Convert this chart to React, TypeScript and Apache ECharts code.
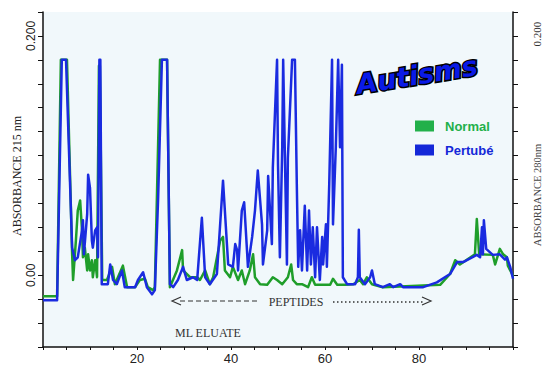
import React, { useEffect, useRef } from "react";
import * as echarts from "echarts";

// ml eluate (x) vs absorbance (y)
const normalPoints: [number, number][] = [
  [0, -0.0175], [3.0, -0.0175], [3.8, 0.18], [5.1, 0.18], [6.2, 0.0175], [6.4, -0.004], [7.0, 0.029],
  [7.4, 0.054], [7.9, 0.0625], [8.3, 0.0375], [8.5, 0.015], [8.9, 0.023], [9.4, 0.004], [9.6, 0.0175],
  [10.0, 0.004], [10.4, 0.0125], [10.6, -0.0017], [11.1, 0.0125], [11.5, -0.0017], [11.9, 0.175],
  [12.1, 0.175], [12.6, -0.004], [13.6, -0.004], [14.7, 0.007], [15.3, -0.0075], [17.0, 0.008],
  [17.9, -0.01], [19.6, -0.01], [20.6, -0.004], [21.7, -0.003], [22.3, -0.01], [23.4, -0.0125],
  [23.8, -0.01], [24.9, 0.18], [26.4, 0.18], [27.0, -0.01], [28.5, 0.004], [29.6, 0.021], [29.8, 0.004],
  [31.3, -0.0017], [32.8, -0.0017], [33.4, -0.004], [34.5, 0.004], [35.5, -0.0075], [36.2, -0.0017],
  [37.7, 0.029], [38.3, 0.032], [38.7, 0.004], [39.8, -0.0017], [40.4, 0.007], [41.5, -0.004],
  [42.3, 0.004], [43.0, -0.0075], [44.0, 0.004], [44.7, 0.0175], [45.1, -0.0017], [46.2, -0.0075],
  [47.7, -0.008], [48.9, -0.0017], [49.8, -0.004], [50.9, -0.0075], [52.1, -0.0017], [52.8, 0.009],
  [53.2, -0.004], [54.0, -0.0075], [55.1, -0.0075], [56.4, -0.01], [57.2, -0.0017], [57.9, -0.008],
  [59.4, -0.008], [61.1, -0.008], [61.7, -0.003], [62.6, -0.008], [64.3, -0.008], [66.0, -0.0075],
  [67.4, -0.004], [68.1, -0.0075], [68.9, -0.0017], [70.0, -0.0075], [72.3, -0.01], [84.5, -0.008],
  [86.6, 0.001], [87.7, 0.0125], [88.7, 0.009], [91.9, 0.0175], [92.3, 0.047], [92.8, 0.0175],
  [95.7, 0.017], [96.2, 0.009], [97.2, 0.022], [97.9, 0.0175], [98.7, 0.015], [98.9, 0.008],
  [99.8, 0.001], [100, -0.001],
];

const pertubePoints: [number, number][] = [
  [0, -0.021], [3.0, -0.021], [4.0, 0.18], [4.9, 0.18], [6.2, 0.023], [6.8, 0.0125], [7.4, 0.015],
  [8.3, 0.0375], [8.5, 0.046], [8.7, 0.0175], [9.4, 0.051], [9.6, 0.084], [10.0, 0.073], [10.4, 0.029],
  [10.6, 0.023], [11.1, 0.0375], [11.5, 0.04], [11.7, 0.015], [12.0, 0.18], [12.2, 0.18], [12.5, -0.0075],
  [13.2, -0.0075], [13.8, -0.0075], [14.3, 0.009], [14.9, -0.004], [15.7, -0.0075], [16.8, 0.004],
  [17.4, -0.01], [19.6, -0.01], [20.2, -0.004], [21.3, 0.0025], [22.1, -0.01], [23.2, -0.016],
  [23.8, -0.0125], [24.5, 0.065], [25.3, 0.18], [26.4, 0.18], [27.0, -0.0075], [27.7, -0.01],
  [28.7, -0.004], [29.8, 0.007], [30.6, -0.004], [31.9, -0.0017], [32.8, -0.004], [33.8, 0.048],
  [34.5, -0.0017], [35.5, -0.0075], [37.0, 0.001], [38.3, 0.079], [39.4, 0.009], [40.4, 0.007],
  [40.9, 0.026], [41.3, 0.021], [41.5, 0.004], [42.3, 0.054], [42.8, 0.061], [43.4, 0.021], [43.6, 0.007],
  [44.5, 0.032], [45.1, 0.054], [45.7, 0.0875], [46.6, 0.0425], [46.8, 0.009], [47.7, 0.0375],
  [47.9, 0.083], [48.7, 0.026], [48.9, 0.09], [49.8, 0.18], [50.0, 0.0925], [50.4, 0.015], [50.9, 0.107],
  [51.1, 0.18], [51.5, 0.0925], [51.9, 0.009], [52.1, 0.098], [53.0, 0.18], [53.6, 0.18], [54.0, 0.076],
  [54.3, 0.007], [54.7, 0.0375], [55.1, 0.004], [55.7, 0.058], [56.2, 0.004], [56.6, 0.054], [57.0, 0.009],
  [57.4, 0.04], [57.9, -0.0017], [58.3, 0.04], [58.9, -0.004], [59.4, 0.032], [59.6, 0.009], [60.2, 0.0425],
  [60.4, 0.007], [60.9, 0.076], [61.5, 0.18], [61.7, 0.0425], [62.3, 0.107], [62.8, 0.18], [63.2, 0.107],
  [63.6, 0.176], [63.8, -0.0017], [64.7, -0.0075], [66.4, -0.0075], [67.0, -0.0017], [67.2, 0.038],
  [67.4, -0.0017], [68.5, -0.0075], [69.6, -0.0017], [70.0, 0.004], [70.6, -0.0075], [72.3, -0.01],
  [73.8, -0.0075], [74.5, -0.01], [76.0, -0.0075], [76.6, -0.01], [80.9, -0.01], [83.8, -0.006],
  [86.6, 0.001], [88.1, 0.011], [89.4, 0.011], [92.3, 0.017], [93.0, 0.015], [93.4, 0.04], [93.6, 0.0175],
  [93.8, 0.046], [94.3, 0.022], [95.7, 0.017], [97.2, 0.0175], [98.3, 0.013], [98.7, 0.015], [99.4, 0.007],
  [100, -0.003],
];

const xLabelValues = [20, 40, 60, 80];
const leftYLabels: [number, string][] = [[0.2, "0.200"], [0, "0.00"]];
const rightYLabel = "0.200";

const GREEN = "#1f9e2a";
const BLUE = "#1a2be0";

function yFormatter(labels: [number, string][]) {
  return (v: number) => {
    for (const [val, txt] of labels) if (Math.abs(v - val) < 1e-6) return txt;
    return "";
  };
}

export default function App() {
  const ref = useRef<HTMLDivElement>(null);
  useEffect(() => {
    const chart = echarts.init(ref.current!, null, { renderer: "svg" });
    const axisLineStyle = { color: "#111", width: 1.5 };
    chart.setOption({
      animation: false,
      backgroundColor: "#ffffff",
      grid: { left: 43, right: 30, top: 12, bottom: 17, show: true, backgroundColor: "#f1f8fb", borderWidth: 0 },
      xAxis: {
        type: "value", min: 0, max: 100, interval: 5,
        axisLine: { onZero: false, lineStyle: axisLineStyle },
        axisTick: { show: true, length: 3, lineStyle: { color: "#111" } },
        splitLine: { show: false },
        axisLabel: {
          color: "#222", fontSize: 13, fontFamily: "Liberation Sans", margin: 5,
          formatter: (v: number) => (xLabelValues.some((t) => Math.abs(t - v) < 1e-6) ? String(Math.round(v)) : ""),
        },
      },
      yAxis: [
        {
          type: "value", min: -0.06, max: 0.22, interval: 0.02, position: "left",
          axisLine: { show: true, onZero: false, lineStyle: axisLineStyle },
          axisTick: { show: true, length: 5, lineStyle: { color: "#111" } },
          splitLine: { show: false },
          axisLabel: { rotate: 90, color: "#222", fontSize: 12, fontFamily: "Liberation Sans", margin: 6, formatter: yFormatter(leftYLabels) },
        },
        {
          type: "value", min: -0.06, max: 0.22, interval: 0.02, position: "right",
          axisLine: { show: true, onZero: false, lineStyle: axisLineStyle },
          axisTick: { show: true, length: 5, lineStyle: { color: "#111" } },
          splitLine: { show: false },
          axisLabel: { show: false },
        },
      ],
      legend: {
        orient: "vertical", left: 410, top: 114, itemWidth: 19, itemHeight: 11, itemGap: 10, icon: "rect",
        textStyle: { fontWeight: "bold", fontSize: 13, fontFamily: "Liberation Sans", lineHeight: 14, padding: [0, 0, 0, 6] },
        data: [
          { name: "Normal", itemStyle: { color: "#22b04a" }, textStyle: { color: "#22b04a" } },
          { name: "Pertubé", itemStyle: { color: "#1428d8" }, textStyle: { color: "#1428d8" } },
        ],
      },
      series: [
        {
          name: "Normal", type: "line", data: normalPoints, showSymbol: false, symbol: "none",
          lineStyle: { color: GREEN, width: 2.5, join: "round" }, itemStyle: { color: GREEN },
        },
        {
          name: "Pertubé", type: "line", data: pertubePoints, showSymbol: false, symbol: "none",
          lineStyle: { color: BLUE, width: 2.5, join: "round" }, itemStyle: { color: BLUE },
        },
      ],
      graphic: [
        {
          type: "text", x: 17, y: 176, rotation: Math.PI / 2,
          style: { text: "ABSORBANCE 215 nm", fill: "#222", font: "12px 'Liberation Serif'", align: "center", verticalAlign: "middle" },
        },
        {
          type: "text", x: 537, y: 195, rotation: Math.PI / 2,
          style: { text: "ABSORBANCE 280nm", fill: "#444", font: "10.5px 'Liberation Serif'", align: "center", verticalAlign: "middle" },
        },
        {
          type: "text", x: 537, y: 34, rotation: Math.PI / 2,
          style: { text: rightYLabel, fill: "#333", font: "11px 'Liberation Serif'", align: "center", verticalAlign: "middle" },
        },
        {
          type: "text", x: 417, y: 75, rotation: 0.16,
          style: {
            text: "Autisms", fill: "#0a1ae6", stroke: "#000", lineWidth: 3,
            font: "italic bold 27px 'DejaVu Sans'", align: "center", verticalAlign: "middle",
          },
        },
        {
          type: "text", x: 208, y: 333,
          style: { text: "ML ELUATE", fill: "#333", font: "12px 'Liberation Serif'", align: "center", verticalAlign: "middle" },
        },
        {
          type: "text", x: 296, y: 302,
          style: { text: "PEPTIDES", fill: "#333", font: "12px 'Liberation Serif'", align: "center", verticalAlign: "middle" },
        },
        { type: "polyline", shape: { points: [[181, 297], [172, 301], [181, 305]] }, style: { stroke: "#333", lineWidth: 1.2, fill: "none" } },
        { type: "line", shape: { x1: 180, y1: 301, x2: 259, y2: 301 }, style: { stroke: "#333", lineWidth: 1.2, lineDash: [5, 3] } },
        { type: "line", shape: { x1: 333, y1: 302, x2: 424, y2: 302 }, style: { stroke: "#333", lineWidth: 1.3, lineDash: [1.5, 2.5] } },
        { type: "polyline", shape: { points: [[422, 297], [431, 301], [422, 305]] }, style: { stroke: "#333", lineWidth: 1.2, fill: "none" } },
      ],
    });
    return () => chart.dispose();
  }, []);
  return <div ref={ref} style={{ position: "absolute", left: 0, top: 0, width: 543, height: 365, background: "#fff" }} />;
}
